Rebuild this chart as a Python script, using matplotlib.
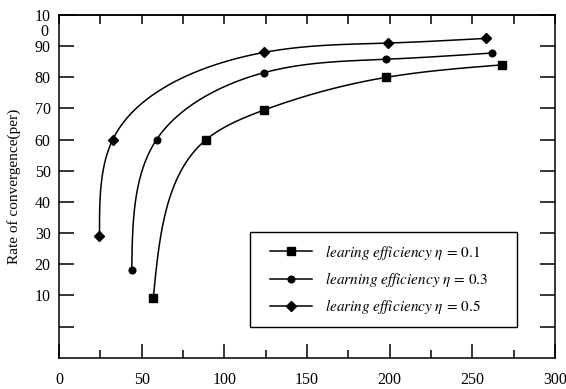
import numpy as np
import matplotlib
matplotlib.use("Agg")
import matplotlib.pyplot as plt
from matplotlib.legend_handler import HandlerLine2D

plt.rcParams['font.family'] = ['Liberation Serif', 'DejaVu Serif']
plt.rcParams['mathtext.fontset'] = 'stix'

# data
x_01 = [57, 89, 124, 198, 268]
y_01 = [9, 60, 69.5, 80, 84]
x_03 = [44, 59, 124, 198, 262]
y_03 = [18, 60, 81.5, 85.8, 87.8]
x_05 = [24.5, 32.5, 124, 199, 258]
y_05 = [29, 60, 88, 91, 92.5]

labels = [r'$\mathit{learing\ efficiency}\ \eta\,=\,0.1$',
          r'$\mathit{learning\ efficiency}\ \eta\,=\,0.3$',
          r'$\mathit{learing\ efficiency}\ \eta\,=\,0.5$']
ytick_vals = [0, 10, 20, 30, 40, 50, 60, 70, 80, 90, 100]
ytick_text = ['', '10', '20', '30', '40', '50', '60', '70', '80', '90', '10']


def natural_spline(t, v, tt):
    n = len(t)
    h = np.diff(t)
    A = np.zeros((n, n))
    b = np.zeros(n)
    A[0, 0] = A[-1, -1] = 1
    for i in range(1, n - 1):
        A[i, i - 1] = h[i - 1]
        A[i, i] = 2 * (h[i - 1] + h[i])
        A[i, i + 1] = h[i]
        b[i] = 6 * ((v[i + 1] - v[i]) / h[i] - (v[i] - v[i - 1]) / h[i - 1])
    M = np.linalg.solve(A, b)
    out = np.empty_like(tt)
    for k, s in enumerate(tt):
        i = min(np.searchsorted(t, s, side='right') - 1, n - 2)
        hi = h[i]
        a = t[i + 1] - s
        c = s - t[i]
        out[k] = (M[i] * a ** 3 / (6 * hi) + M[i + 1] * c ** 3 / (6 * hi)
                  + (v[i] / hi - M[i] * hi / 6) * a
                  + (v[i + 1] / hi - M[i + 1] * hi / 6) * c)
    return out


def smooth(xs, ys, n=300):
    # parametric spline in roughly screen-scaled units
    sx, sy = 1.653, 3.115
    px = np.asarray(xs, float) * sx
    py = np.asarray(ys, float) * sy
    t = np.r_[0, np.cumsum(np.hypot(np.diff(px), np.diff(py)))]
    tt = np.linspace(0, t[-1], n)
    return natural_spline(t, px, tt) / sx, natural_spline(t, py, tt) / sy


fig = plt.figure(figsize=(5.66, 3.89), dpi=100)
ax = fig.add_axes([0.1042, 0.0805, 0.8764, 0.8809])

handles = []
for xs, ys, mk, ms, lab in [(x_01, y_01, 's', 5.2, labels[0]),
                            (x_03, y_03, 'o', 4.8, labels[1]),
                            (x_05, y_05, 'D', 5.3, labels[2])]:
    sxs, sys_ = smooth(xs, ys)
    ax.plot(sxs, sys_, color='black', lw=1.1)
    ax.plot(xs, ys, linestyle='none', marker=mk, ms=ms, color='black')
    h, = ax.plot([], [], color='black', lw=1.1, marker=mk, ms=ms, label=lab)
    handles.append(h)

ax.set_xlim(0, 300)
ax.set_ylim(-10, 100)
ax.set_xticks(np.arange(0, 301, 50))
ax.set_xticks(np.arange(25, 300, 50), minor=True)
ax.set_yticks(ytick_vals)
ax.set_yticklabels(ytick_text)
ax.text(-0.022, 94.6, '0', transform=ax.get_yaxis_transform(),
        ha='right', va='center', fontsize=11.5)

ax.tick_params(axis='x', which='major', direction='in', length=10, width=1.1,
               labelsize=11.5, pad=10, top=False)
ax.tick_params(axis='x', which='minor', direction='in', length=5.5, width=1.1, top=False)
ax.tick_params(axis='y', which='major', direction='in', length=11, width=1.1,
               labelsize=11.5, pad=6, right=True)
top = ax.secondary_xaxis('top')
top.set_xticks(np.arange(0, 301, 25))
top.set_xticklabels([])
top.tick_params(direction='in', length=6.5, width=1.1)
top.spines['top'].set_linewidth(1.1)
for sp in ax.spines.values():
    sp.set_linewidth(1.1)

ax.set_ylabel('Rate of convergence(per)', fontsize=11, labelpad=10)

leg = ax.legend(handles=handles, loc='lower left',
                bbox_to_anchor=(0.385, 0.089, 0.538, 0.267), mode='expand',
                borderaxespad=0, fontsize=11, frameon=True, fancybox=False,
                edgecolor='black', borderpad=0.7, labelspacing=0.55,
                handlelength=3.35, handletextpad=0.85,
                handler_map={h: HandlerLine2D(xpad=0.61) for h in handles})
leg.get_frame().set_linewidth(1.0)
leg.get_frame().set_alpha(None)

fig.savefig('out.png', dpi=100)
